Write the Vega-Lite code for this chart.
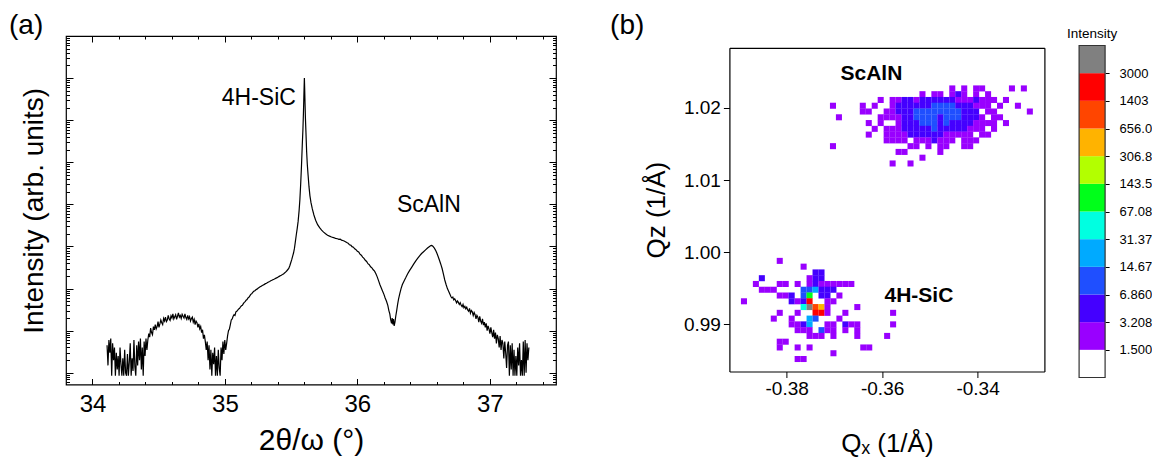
{
  "$schema": "https://vega.github.io/schema/vega-lite/v6.json",
  "background": "white",
  "padding": {"left": 8, "top": 10, "right": 0, "bottom": 0},
  "config": {
    "font": "Liberation Sans",
    "view": {"stroke": "#000", "strokeWidth": 1.2},
    "axis": {"labelFont": "Liberation Sans", "titleFont": "Liberation Sans", "labelColor": "#000", "titleColor": "#000", "tickColor": "#000", "domainColor": "#000", "domainWidth": 1.2, "titleFontWeight": "normal", "grid": false, "labelOverlap": false, "labelFlush": false},
    "title": {"font": "Liberation Sans", "fontWeight": "normal", "color": "#000"},
    "text": {"font": "Liberation Sans"}
  },
  "bounds": "flush",
  "spacing": 34.7,
  "hconcat": [
    {
      "width": 490,
      "height": 348.5,
      "title": {"text": "(a)", "anchor": "start", "frame": "group", "dx": -57, "offset": -26, "baseline": "alphabetic", "fontSize": 28},
      "layer": [
        {
          "data": {"values": [
{"t":34.110,"i":4.5},{"t":34.117,"i":1.5},{"t":34.124,"i":6},{"t":34.131,"i":3},{"t":34.138,"i":6.5},{"t":34.145,"i":0.85},{"t":34.152,"i":5},{"t":34.159,"i":2},{"t":34.166,"i":4},{"t":34.173,"i":0.85},{"t":34.180,"i":3},{"t":34.187,"i":1.2},{"t":34.194,"i":2.5},{"t":34.201,"i":0.85},{"t":34.208,"i":4},{"t":34.215,"i":1.6},{"t":34.222,"i":0.85},{"t":34.229,"i":2.2},{"t":34.236,"i":0.85},{"t":34.243,"i":3.5},{"t":34.250,"i":1},{"t":34.257,"i":0.85},{"t":34.264,"i":2.8},{"t":34.271,"i":0.85},{"t":34.278,"i":1.8},{"t":34.285,"i":5},{"t":34.292,"i":0.85},{"t":34.299,"i":2.2},{"t":34.306,"i":1.1},{"t":34.313,"i":6},{"t":34.320,"i":1.4},{"t":34.327,"i":0.85},{"t":34.334,"i":4.5},{"t":34.341,"i":1.5},{"t":34.348,"i":5.5},{"t":34.355,"i":2},{"t":34.362,"i":6.5},{"t":34.369,"i":1.2},{"t":34.376,"i":4},{"t":34.383,"i":0.85},{"t":34.390,"i":5.5},{"t":34.397,"i":2.5},{"t":34.404,"i":6.5},{"t":34.411,"i":3.5},
{"t":34.418,"i":6},{"t":34.425,"i":8.5},{"t":34.432,"i":7},{"t":34.439,"i":11.5},{"t":34.446,"i":9},{"t":34.453,"i":8},{"t":34.460,"i":12.5},{"t":34.467,"i":10.5},{"t":34.474,"i":14},{"t":34.481,"i":11},{"t":34.488,"i":12.5},{"t":34.495,"i":16.5},{"t":34.502,"i":12},{"t":34.509,"i":14.5},{"t":34.516,"i":18},{"t":34.523,"i":15.5},{"t":34.530,"i":14},{"t":34.537,"i":19.5},{"t":34.544,"i":17},{"t":34.551,"i":21},{"t":34.558,"i":16.5},{"t":34.565,"i":18},{"t":34.572,"i":23},{"t":34.579,"i":19},{"t":34.586,"i":17.5},{"t":34.593,"i":22.5},{"t":34.600,"i":20},{"t":34.607,"i":25},{"t":34.614,"i":19},{"t":34.621,"i":21.5},{"t":34.628,"i":24},{"t":34.635,"i":18.5},{"t":34.642,"i":22},{"t":34.649,"i":26.5},{"t":34.656,"i":21},{"t":34.663,"i":23},{"t":34.670,"i":19.5},{"t":34.677,"i":24.5},{"t":34.684,"i":22},{"t":34.691,"i":20},{"t":34.698,"i":25},{"t":34.705,"i":20.5},{"t":34.712,"i":18.5},{"t":34.719,"i":23},{"t":34.726,"i":19},{"t":34.733,"i":21.5},{"t":34.740,"i":17},{"t":34.747,"i":19.5},{"t":34.754,"i":21},{"t":34.761,"i":16},{"t":34.768,"i":18.5},{"t":34.775,"i":14},{"t":34.782,"i":17},{"t":34.789,"i":15.5},{"t":34.796,"i":12},{"t":34.803,"i":14.5},{"t":34.810,"i":11},{"t":34.817,"i":12.5},{"t":34.824,"i":9},{"t":34.831,"i":10.5},{"t":34.838,"i":6.5},{"t":34.845,"i":8},{"t":34.852,"i":5.5},
{"t":34.859,"i":3.5},{"t":34.866,"i":5.5},{"t":34.873,"i":2},{"t":34.880,"i":4.5},{"t":34.887,"i":1.2},{"t":34.894,"i":3.5},{"t":34.901,"i":0.85},{"t":34.908,"i":3},{"t":34.915,"i":1.6},{"t":34.922,"i":4},{"t":34.929,"i":0.85},{"t":34.936,"i":2.5},{"t":34.943,"i":0.85},{"t":34.950,"i":3.5},{"t":34.957,"i":1.3},{"t":34.964,"i":0.85},{"t":34.971,"i":4},{"t":34.978,"i":2},{"t":34.985,"i":5.5},{"t":34.992,"i":2.8},{"t":34.999,"i":6},{"t":35.006,"i":3.5},{"t":35.013,"i":5},
{"t":35.020,"i":7.5},{"t":35.027,"i":10},{"t":35.034,"i":11},{"t":35.041,"i":14},{"t":35.048,"i":18},{"t":35.055,"i":19},{"t":35.062,"i":22},{"t":35.069,"i":24},{"t":35.076,"i":23},{"t":35.083,"i":28},{"t":35.090,"i":29},{"t":35.097,"i":31},{"t":35.104,"i":33},{"t":35.111,"i":34},{"t":35.118,"i":37},{"t":35.125,"i":39},{"t":35.132,"i":40},{"t":35.139,"i":44},{"t":35.146,"i":47},{"t":35.153,"i":49},{"t":35.160,"i":53},{"t":35.167,"i":55},{"t":35.174,"i":60},{"t":35.181,"i":62},{"t":35.188,"i":67},{"t":35.195,"i":73},{"t":35.202,"i":75},{"t":35.210,"i":81},{"t":35.218,"i":86},{"t":35.226,"i":89},{"t":35.234,"i":94},{"t":35.242,"i":97},{"t":35.250,"i":102},{"t":35.258,"i":106},{"t":35.266,"i":110},{"t":35.274,"i":114},{"t":35.282,"i":118},{"t":35.290,"i":122},{"t":35.298,"i":126},{"t":35.306,"i":131},{"t":35.314,"i":134},{"t":35.322,"i":140},{"t":35.330,"i":144},{"t":35.338,"i":148},{"t":35.346,"i":153},{"t":35.354,"i":157},{"t":35.362,"i":163},{"t":35.370,"i":167},{"t":35.378,"i":172},{"t":35.386,"i":177},{"t":35.394,"i":182},{"t":35.402,"i":188},{"t":35.410,"i":195},{"t":35.418,"i":202},{"t":35.426,"i":208},{"t":35.434,"i":215},{"t":35.442,"i":223},{"t":35.450,"i":234},{"t":35.458,"i":246},{"t":35.466,"i":262},{"t":35.474,"i":280},{"t":35.482,"i":300},{"t":35.490,"i":350},{"t":35.497,"i":410},{"t":35.504,"i":480},{"t":35.511,"i":580},{"t":35.518,"i":700},{"t":35.525,"i":900},{"t":35.532,"i":1300},{"t":35.539,"i":1900},{"t":35.546,"i":2700},{"t":35.553,"i":4000},{"t":35.560,"i":7000},{"t":35.566,"i":13000},{"t":35.572,"i":30000},{"t":35.578,"i":80000},{"t":35.584,"i":250000},{"t":35.589,"i":600000},{"t":35.593,"i":1500000},{"t":35.596,"i":3500000},{"t":35.599,"i":8000000},{"t":35.600,"i":10000000},{"t":35.602,"i":6000000},{"t":35.605,"i":2500000},{"t":35.608,"i":1100000},{"t":35.612,"i":500000},{"t":35.617,"i":180000},{"t":35.622,"i":90000},{"t":35.628,"i":50000},{"t":35.635,"i":26000},{"t":35.642,"i":16000},{"t":35.650,"i":11000},{"t":35.660,"i":7800},{"t":35.672,"i":5600},{"t":35.685,"i":4200},
{"t":35.700,"i":3300},{"t":35.715,"i":2800},{"t":35.730,"i":2450},{"t":35.745,"i":2200},{"t":35.760,"i":2000},{"t":35.775,"i":1850},{"t":35.790,"i":1760},{"t":35.805,"i":1680},{"t":35.820,"i":1630},{"t":35.835,"i":1560},{"t":35.850,"i":1530},{"t":35.860,"i":1480},{"t":35.870,"i":1500},{"t":35.880,"i":1420},{"t":35.890,"i":1390},{"t":35.900,"i":1350},{"t":35.910,"i":1300},{"t":35.920,"i":1240},{"t":35.930,"i":1200},{"t":35.940,"i":1100},{"t":35.950,"i":1080},{"t":35.960,"i":990},{"t":35.970,"i":960},{"t":35.980,"i":880},{"t":35.990,"i":840},{"t":36.000,"i":770},{"t":36.010,"i":740},{"t":36.020,"i":660},{"t":36.030,"i":620},{"t":36.040,"i":560},{"t":36.050,"i":520},{"t":36.060,"i":470},{"t":36.070,"i":440},{"t":36.080,"i":390},{"t":36.090,"i":370},{"t":36.100,"i":330},{"t":36.110,"i":310},{"t":36.120,"i":280},{"t":36.130,"i":260},{"t":36.140,"i":225},{"t":36.150,"i":190},{"t":36.160,"i":155},{"t":36.170,"i":125},{"t":36.180,"i":105},{"t":36.190,"i":88},{"t":36.200,"i":74},{"t":36.210,"i":60},{"t":36.220,"i":50},{"t":36.230,"i":40},{"t":36.238,"i":30},{"t":36.245,"i":25},{"t":36.252,"i":18},{"t":36.258,"i":15},{"t":36.263,"i":20},{"t":36.268,"i":14},{"t":36.273,"i":19},{"t":36.278,"i":13},{"t":36.284,"i":16},{"t":36.290,"i":22},{"t":36.297,"i":30},{"t":36.304,"i":42},{"t":36.311,"i":56},{"t":36.320,"i":75},{"t":36.330,"i":100},{"t":36.340,"i":125},{"t":36.352,"i":150},{"t":36.365,"i":180},{"t":36.380,"i":225},{"t":36.395,"i":270},{"t":36.410,"i":320},{"t":36.425,"i":380},{"t":36.440,"i":450},{"t":36.455,"i":520},{"t":36.470,"i":600},{"t":36.485,"i":680},{"t":36.500,"i":750},{"t":36.515,"i":830},{"t":36.530,"i":920},{"t":36.545,"i":1000},{"t":36.555,"i":1050},{"t":36.562,"i":1060},{"t":36.570,"i":1020},{"t":36.580,"i":930},{"t":36.590,"i":820},{"t":36.600,"i":700},{"t":36.610,"i":580},{"t":36.620,"i":470},{"t":36.630,"i":380},{"t":36.640,"i":300},{"t":36.650,"i":220},{"t":36.660,"i":160},{"t":36.670,"i":125},{"t":36.680,"i":100},{"t":36.690,"i":85},{"t":36.700,"i":72},
{"t":36.707,"i":64},{"t":36.714,"i":60},{"t":36.721,"i":63},{"t":36.728,"i":54},{"t":36.735,"i":57},{"t":36.742,"i":52},{"t":36.749,"i":46},{"t":36.756,"i":51},{"t":36.763,"i":47},{"t":36.770,"i":42},{"t":36.777,"i":46},{"t":36.784,"i":40},{"t":36.791,"i":37},{"t":36.798,"i":42},{"t":36.805,"i":35},{"t":36.812,"i":38},{"t":36.819,"i":33},{"t":36.826,"i":36},{"t":36.833,"i":31},{"t":36.840,"i":29},{"t":36.847,"i":34},{"t":36.854,"i":26},{"t":36.861,"i":30},{"t":36.868,"i":28},{"t":36.875,"i":23},{"t":36.882,"i":27},{"t":36.889,"i":24},{"t":36.896,"i":19},{"t":36.903,"i":23},{"t":36.910,"i":21},{"t":36.917,"i":16},{"t":36.924,"i":22},{"t":36.931,"i":17},{"t":36.938,"i":15},{"t":36.945,"i":19},{"t":36.952,"i":13.5},{"t":36.959,"i":16},{"t":36.966,"i":12},{"t":36.973,"i":15},{"t":36.980,"i":10},{"t":36.987,"i":13},{"t":36.994,"i":11},{"t":37.001,"i":8.5},{"t":37.008,"i":12},{"t":37.015,"i":9},{"t":37.022,"i":7},{"t":37.029,"i":10.5},{"t":37.036,"i":6.5},{"t":37.043,"i":9},{"t":37.050,"i":5},{"t":37.057,"i":8},{"t":37.064,"i":6.5},{"t":37.071,"i":4},{"t":37.078,"i":7.5},{"t":37.085,"i":3.5},{"t":37.092,"i":6},{"t":37.099,"i":5},{"t":37.106,"i":2.2},{"t":37.113,"i":5.5},{"t":37.120,"i":3},{"t":37.127,"i":1.3},{"t":37.134,"i":4.5},{"t":37.141,"i":5.5},{"t":37.148,"i":0.85},{"t":37.155,"i":4.5},{"t":37.162,"i":1.2},{"t":37.169,"i":5},{"t":37.176,"i":0.85},{"t":37.183,"i":3.5},{"t":37.190,"i":0.85},{"t":37.197,"i":2.5},{"t":37.204,"i":0.85},{"t":37.211,"i":4},{"t":37.218,"i":1.5},{"t":37.225,"i":5},{"t":37.232,"i":0.85},{"t":37.239,"i":2},{"t":37.246,"i":0.85},{"t":37.253,"i":5.5},{"t":37.260,"i":0.85},{"t":37.267,"i":6},{"t":37.274,"i":1},{"t":37.281,"i":5},{"t":37.288,"i":2},{"t":37.295,"i":4}
          ]},
          "mark": {"type": "line", "color": "#000", "strokeWidth": 1.2},
          "encoding": {
            "x": {"field": "t", "type": "quantitative", "scale": {"domain": [33.8, 37.5], "nice": false, "zero": false},
              "axis": {"orient": "bottom", "domain": false, "values": [34, 34.2, 34.4, 34.6, 34.8, 35, 35.2, 35.4, 35.6, 35.8, 36, 36.2, 36.4, 36.6, 36.8, 37, 37.2, 37.4],
                "tickSize": {"condition": {"test": "abs(datum.value - round(datum.value)) < 0.01", "value": -6}, "value": -3},
                "labelExpr": "abs(datum.value - round(datum.value)) < 0.01 ? format(datum.value, 'd') : ''",
                "labelFontSize": 24, "labelPadding": 14, "title": "2θ/ω (°)", "titleFontSize": 30, "titlePadding": 6}},
            "y": {"field": "i", "type": "quantitative", "scale": {"type": "log", "domain": [0.527, 100000000], "nice": false},
              "axis": {"orient": "left", "domain": false, "labels": false,
                "values": [0.6,0.7,0.8,0.9,1,2,3,4,5,6,7,8,9,10,20,30,40,50,60,70,80,90,100,200,300,400,500,600,700,800,900,1000,2000,3000,4000,5000,6000,7000,8000,9000,10000,20000,30000,40000,50000,60000,70000,80000,90000,100000,200000,300000,400000,500000,600000,700000,800000,900000,1000000,2000000,3000000,4000000,5000000,6000000,7000000,8000000,9000000,10000000,20000000,30000000,40000000,50000000,60000000,70000000,80000000,90000000,100000000],
                "tickSize": {"condition": {"test": "abs(log(datum.value)/LN10 - round(log(datum.value)/LN10)) < 0.001", "value": -7}, "value": -3.5},
                "title": "Intensity (arb. units)", "titleFontSize": 28, "titlePadding": 17}}
          }
        },
        {
          "data": {"values": [{"t": 35.256, "i": 3400000, "label": "4H-SiC"}, {"t": 36.54, "i": 9500, "label": "ScAlN"}]},
          "mark": {"type": "text", "fontSize": 23, "color": "#000", "baseline": "middle", "align": "center"},
          "encoding": {
            "x": {"field": "t", "type": "quantitative", "scale": {"domain": [33.8, 37.5], "nice": false, "zero": false},
              "axis": {"orient": "top", "domain": false, "labels": false, "title": null, "values": [34, 34.2, 34.4, 34.6, 34.8, 35, 35.2, 35.4, 35.6, 35.8, 36, 36.2, 36.4, 36.6, 36.8, 37, 37.2, 37.4],
                "tickSize": {"condition": {"test": "abs(datum.value - round(datum.value)) < 0.01", "value": -6}, "value": -3}}},
            "y": {"field": "i", "type": "quantitative", "scale": {"type": "log", "domain": [0.527, 100000000], "nice": false},
              "axis": {"orient": "right", "domain": false, "labels": false, "title": null,
                "values": [0.6,0.7,0.8,0.9,1,2,3,4,5,6,7,8,9,10,20,30,40,50,60,70,80,90,100,200,300,400,500,600,700,800,900,1000,2000,3000,4000,5000,6000,7000,8000,9000,10000,20000,30000,40000,50000,60000,70000,80000,90000,100000,200000,300000,400000,500000,600000,700000,800000,900000,1000000,2000000,3000000,4000000,5000000,6000000,7000000,8000000,9000000,10000000,20000000,30000000,40000000,50000000,60000000,70000000,80000000,90000000,100000000],
                "tickSize": {"condition": {"test": "abs(log(datum.value)/LN10 - round(log(datum.value)/LN10)) < 0.001", "value": -7}, "value": -3.5}}},
            "text": {"field": "label"}
          }
        }
      ],
      "resolve": {"axis": {"x": "independent", "y": "independent"}}
    },
    {"width": 103.9, "height": 10, "data": {"values": []}, "mark": "point", "view": {"stroke": null}},
    {
      "width": 315,
      "height": 335.5,
      "view": {"stroke": null},
      "title": {"text": "(b)", "anchor": "start", "frame": "group", "dx": -119.3, "offset": -26, "baseline": "alphabetic", "fontSize": 28},
      "layer": [
        {
          "data": {"values": [
{"x":-0.3453,"z":1.0227,"v":2.2},{"x":-0.3428,"z":1.0227,"v":2.2},{"x":-0.3403,"z":1.0227,"v":2.2},{"x":-0.33905,"z":1.0227,"v":2.2},{"x":-0.3328,"z":1.0227,"v":2.2},{"x":-0.3303,"z":1.0227,"v":2.2},
{"x":-0.35155,"z":1.0219,"v":2.2},{"x":-0.34905,"z":1.0219,"v":2.2},{"x":-0.3478,"z":1.0219,"v":2.2},{"x":-0.3453,"z":1.0219,"v":2.2},{"x":-0.34405,"z":1.0219,"v":4.7},{"x":-0.3428,"z":1.0219,"v":2.2},{"x":-0.3403,"z":1.0219,"v":2.2},{"x":-0.3378,"z":1.0219,"v":2.2},
{"x":-0.3603,"z":1.0211,"v":2.2},{"x":-0.3578,"z":1.0211,"v":2.2},{"x":-0.35655,"z":1.0211,"v":2.2},{"x":-0.3553,"z":1.0211,"v":4.7},{"x":-0.35405,"z":1.0211,"v":4.7},{"x":-0.3528,"z":1.0211,"v":2.2},{"x":-0.35155,"z":1.0211,"v":4.7},{"x":-0.3503,"z":1.0211,"v":4.7},{"x":-0.34905,"z":1.0211,"v":4.7},{"x":-0.3478,"z":1.0211,"v":4.7},{"x":-0.34655,"z":1.0211,"v":4.7},{"x":-0.3453,"z":1.0211,"v":4.7},{"x":-0.34405,"z":1.0211,"v":2.2},{"x":-0.3428,"z":1.0211,"v":2.2},{"x":-0.34155,"z":1.0211,"v":2.2},{"x":-0.3403,"z":1.0211,"v":4.7},{"x":-0.33905,"z":1.0211,"v":2.2},{"x":-0.3378,"z":1.0211,"v":2.2},{"x":-0.33655,"z":1.0211,"v":2.2},{"x":-0.33405,"z":1.0211,"v":2.2},
{"x":-0.3703,"z":1.0203,"v":2.2},{"x":-0.36405,"z":1.0203,"v":2.2},{"x":-0.36155,"z":1.0203,"v":2.2},{"x":-0.3578,"z":1.0203,"v":2.2},{"x":-0.35655,"z":1.0203,"v":4.7},{"x":-0.3553,"z":1.0203,"v":4.7},{"x":-0.35405,"z":1.0203,"v":4.7},{"x":-0.3528,"z":1.0203,"v":4.7},{"x":-0.35155,"z":1.0203,"v":4.7},{"x":-0.3503,"z":1.0203,"v":4.7},{"x":-0.34905,"z":1.0203,"v":10},{"x":-0.3478,"z":1.0203,"v":10},{"x":-0.34655,"z":1.0203,"v":10},{"x":-0.3453,"z":1.0203,"v":10},{"x":-0.34405,"z":1.0203,"v":4.7},{"x":-0.3428,"z":1.0203,"v":4.7},{"x":-0.34155,"z":1.0203,"v":4.7},{"x":-0.3403,"z":1.0203,"v":2.2},{"x":-0.33905,"z":1.0203,"v":2.2},{"x":-0.3378,"z":1.0203,"v":2.2},{"x":-0.3353,"z":1.0203,"v":2.2},{"x":-0.33155,"z":1.0203,"v":2.2},
{"x":-0.36405,"z":1.0195,"v":2.2},{"x":-0.3628,"z":1.0195,"v":2.2},{"x":-0.35905,"z":1.0195,"v":2.2},{"x":-0.3578,"z":1.0195,"v":2.2},{"x":-0.35655,"z":1.0195,"v":4.7},{"x":-0.3553,"z":1.0195,"v":4.7},{"x":-0.35405,"z":1.0195,"v":4.7},{"x":-0.3528,"z":1.0195,"v":10},{"x":-0.35155,"z":1.0195,"v":10},{"x":-0.3503,"z":1.0195,"v":10},{"x":-0.34905,"z":1.0195,"v":10},{"x":-0.3478,"z":1.0195,"v":10},{"x":-0.34655,"z":1.0195,"v":10},{"x":-0.3453,"z":1.0195,"v":10},{"x":-0.34405,"z":1.0195,"v":10},{"x":-0.3428,"z":1.0195,"v":4.7},{"x":-0.34155,"z":1.0195,"v":4.7},{"x":-0.3403,"z":1.0195,"v":4.7},{"x":-0.3378,"z":1.0195,"v":2.2},{"x":-0.33655,"z":1.0195,"v":2.2},{"x":-0.32905,"z":1.0195,"v":2.2},
{"x":-0.36905,"z":1.0187,"v":2.2},{"x":-0.3603,"z":1.0187,"v":2.2},{"x":-0.35905,"z":1.0187,"v":2.2},{"x":-0.3578,"z":1.0187,"v":2.2},{"x":-0.35655,"z":1.0187,"v":2.2},{"x":-0.3553,"z":1.0187,"v":4.7},{"x":-0.35405,"z":1.0187,"v":4.7},{"x":-0.3528,"z":1.0187,"v":10},{"x":-0.35155,"z":1.0187,"v":10},{"x":-0.3503,"z":1.0187,"v":10},{"x":-0.34905,"z":1.0187,"v":10},{"x":-0.3478,"z":1.0187,"v":4.7},{"x":-0.34655,"z":1.0187,"v":10},{"x":-0.3453,"z":1.0187,"v":10},{"x":-0.34405,"z":1.0187,"v":10},{"x":-0.3428,"z":1.0187,"v":4.7},{"x":-0.34155,"z":1.0187,"v":4.7},{"x":-0.3403,"z":1.0187,"v":4.7},{"x":-0.33905,"z":1.0187,"v":2.2},{"x":-0.33655,"z":1.0187,"v":2.2},{"x":-0.3353,"z":1.0187,"v":2.2},
{"x":-0.3628,"z":1.0179,"v":2.2},{"x":-0.3603,"z":1.0179,"v":2.2},{"x":-0.35655,"z":1.0179,"v":2.2},{"x":-0.3553,"z":1.0179,"v":4.7},{"x":-0.35405,"z":1.0179,"v":4.7},{"x":-0.3528,"z":1.0179,"v":4.7},{"x":-0.35155,"z":1.0179,"v":10},{"x":-0.3503,"z":1.0179,"v":10},{"x":-0.34905,"z":1.0179,"v":10},{"x":-0.3478,"z":1.0179,"v":4.7},{"x":-0.34655,"z":1.0179,"v":10},{"x":-0.3453,"z":1.0179,"v":4.7},{"x":-0.34405,"z":1.0179,"v":4.7},{"x":-0.3428,"z":1.0179,"v":4.7},{"x":-0.34155,"z":1.0179,"v":4.7},{"x":-0.3403,"z":1.0179,"v":2.2},{"x":-0.33905,"z":1.0179,"v":2.2},{"x":-0.3378,"z":1.0179,"v":2.2},{"x":-0.33655,"z":1.0179,"v":2.2},{"x":-0.33405,"z":1.0179,"v":2.2},
{"x":-0.36155,"z":1.0171,"v":2.2},{"x":-0.35905,"z":1.0171,"v":2.2},{"x":-0.3578,"z":1.0171,"v":2.2},{"x":-0.35655,"z":1.0171,"v":2.2},{"x":-0.3553,"z":1.0171,"v":4.7},{"x":-0.35405,"z":1.0171,"v":4.7},{"x":-0.3528,"z":1.0171,"v":4.7},{"x":-0.35155,"z":1.0171,"v":4.7},{"x":-0.3503,"z":1.0171,"v":4.7},{"x":-0.34905,"z":1.0171,"v":10},{"x":-0.3478,"z":1.0171,"v":4.7},{"x":-0.34655,"z":1.0171,"v":4.7},{"x":-0.3453,"z":1.0171,"v":4.7},{"x":-0.34405,"z":1.0171,"v":4.7},{"x":-0.3428,"z":1.0171,"v":4.7},{"x":-0.34155,"z":1.0171,"v":2.2},{"x":-0.3403,"z":1.0171,"v":2.2},{"x":-0.33905,"z":1.0171,"v":2.2},{"x":-0.33655,"z":1.0171,"v":2.2},
{"x":-0.3628,"z":1.0163,"v":2.2},{"x":-0.35905,"z":1.0163,"v":2.2},{"x":-0.3578,"z":1.0163,"v":2.2},{"x":-0.35655,"z":1.0163,"v":2.2},{"x":-0.3553,"z":1.0163,"v":2.2},{"x":-0.35405,"z":1.0163,"v":4.7},{"x":-0.3528,"z":1.0163,"v":4.7},{"x":-0.35155,"z":1.0163,"v":4.7},{"x":-0.3503,"z":1.0163,"v":4.7},{"x":-0.34905,"z":1.0163,"v":4.7},{"x":-0.3478,"z":1.0163,"v":4.7},{"x":-0.34655,"z":1.0163,"v":2.2},{"x":-0.3453,"z":1.0163,"v":2.2},{"x":-0.34405,"z":1.0163,"v":2.2},{"x":-0.3428,"z":1.0163,"v":2.2},{"x":-0.34155,"z":1.0163,"v":2.2},{"x":-0.33905,"z":1.0163,"v":2.2},{"x":-0.3378,"z":1.0163,"v":2.2},
{"x":-0.35905,"z":1.0155,"v":2.2},{"x":-0.3578,"z":1.0155,"v":2.2},{"x":-0.35655,"z":1.0155,"v":2.2},{"x":-0.3553,"z":1.0155,"v":2.2},{"x":-0.3528,"z":1.0155,"v":2.2},{"x":-0.35155,"z":1.0155,"v":2.2},{"x":-0.3503,"z":1.0155,"v":2.2},{"x":-0.34905,"z":1.0155,"v":4.7},{"x":-0.3478,"z":1.0155,"v":2.2},{"x":-0.34655,"z":1.0155,"v":2.2},{"x":-0.3453,"z":1.0155,"v":2.2},{"x":-0.3428,"z":1.0155,"v":2.2},{"x":-0.34155,"z":1.0155,"v":2.2},{"x":-0.3403,"z":1.0155,"v":2.2},
{"x":-0.3703,"z":1.0147,"v":2.2},{"x":-0.35405,"z":1.0147,"v":2.2},{"x":-0.3528,"z":1.0147,"v":2.2},{"x":-0.3503,"z":1.0147,"v":2.2},{"x":-0.3478,"z":1.0147,"v":2.2},{"x":-0.34655,"z":1.0147,"v":2.2},{"x":-0.3428,"z":1.0147,"v":2.2},{"x":-0.34155,"z":1.0147,"v":2.2},
{"x":-0.35655,"z":1.0139,"v":2.2},{"x":-0.3553,"z":1.0139,"v":2.2},{"x":-0.3478,"z":1.0139,"v":2.2},
{"x":-0.35155,"z":1.0131,"v":2.2},
{"x":-0.3578,"z":1.0123,"v":2.2},{"x":-0.35405,"z":1.0123,"v":2.2},
{"x":-0.38145,"z":0.9988,"v":2.2},
{"x":-0.37645,"z":0.998,"v":2.2},
{"x":-0.37395,"z":0.9972,"v":4.7},{"x":-0.3727,"z":0.9972,"v":4.7},
{"x":-0.3852,"z":0.9964,"v":4.7},{"x":-0.3752,"z":0.9964,"v":2.2},{"x":-0.37395,"z":0.9964,"v":4.7},{"x":-0.3727,"z":0.9964,"v":4.7},
{"x":-0.38645,"z":0.9956,"v":2.2},{"x":-0.38145,"z":0.9956,"v":2.2},{"x":-0.3802,"z":0.9956,"v":2.2},{"x":-0.3777,"z":0.9956,"v":2.2},{"x":-0.3752,"z":0.9956,"v":2.2},{"x":-0.37395,"z":0.9956,"v":4.7},{"x":-0.3727,"z":0.9956,"v":2.2},{"x":-0.37145,"z":0.9956,"v":2.2},{"x":-0.3702,"z":0.9956,"v":2.2},{"x":-0.36895,"z":0.9956,"v":2.2},{"x":-0.3677,"z":0.9956,"v":2.2},{"x":-0.36645,"z":0.9956,"v":2.2},
{"x":-0.3852,"z":0.9948,"v":2.2},{"x":-0.38395,"z":0.9948,"v":2.2},{"x":-0.3827,"z":0.9948,"v":2.2},{"x":-0.37645,"z":0.9948,"v":10},{"x":-0.3752,"z":0.9948,"v":10},{"x":-0.37395,"z":0.9948,"v":21},{"x":-0.3727,"z":0.9948,"v":4.7},{"x":-0.37145,"z":0.9948,"v":4.7},{"x":-0.3702,"z":0.9948,"v":4.7},
{"x":-0.38145,"z":0.994,"v":2.2},{"x":-0.3802,"z":0.994,"v":2.2},{"x":-0.37895,"z":0.994,"v":4.7},{"x":-0.37645,"z":0.994,"v":10},{"x":-0.3752,"z":0.994,"v":98},{"x":-0.3727,"z":0.994,"v":4.7},{"x":-0.37145,"z":0.994,"v":4.7},{"x":-0.36895,"z":0.994,"v":2.2},
{"x":-0.38895,"z":0.9932,"v":2.2},{"x":-0.37895,"z":0.9932,"v":4.7},{"x":-0.3777,"z":0.9932,"v":2.2},{"x":-0.37645,"z":0.9932,"v":4.7},{"x":-0.3752,"z":0.9932,"v":2050},{"x":-0.37145,"z":0.9932,"v":2.2},{"x":-0.3702,"z":0.9932,"v":2.2},
{"x":-0.37645,"z":0.9924,"v":46},{"x":-0.3752,"z":0.9924,"v":4400},{"x":-0.37395,"z":0.9924,"v":960},{"x":-0.3727,"z":0.9924,"v":450},{"x":-0.37145,"z":0.9924,"v":2.2},{"x":-0.3652,"z":0.9924,"v":2.2},
{"x":-0.38145,"z":0.9916,"v":2.2},{"x":-0.3777,"z":0.9916,"v":2.2},{"x":-0.37395,"z":0.9916,"v":2050},{"x":-0.3727,"z":0.9916,"v":2050},{"x":-0.37145,"z":0.9916,"v":2.2},{"x":-0.3677,"z":0.9916,"v":2.2},{"x":-0.3577,"z":0.9916,"v":2.2},
{"x":-0.3827,"z":0.9908,"v":2.2},{"x":-0.37895,"z":0.9908,"v":2.2},{"x":-0.3752,"z":0.9908,"v":21},{"x":-0.37395,"z":0.9908,"v":10},{"x":-0.36895,"z":0.9908,"v":2.2},
{"x":-0.37895,"z":0.99,"v":2.2},{"x":-0.3777,"z":0.99,"v":2.2},{"x":-0.37645,"z":0.99,"v":4.7},{"x":-0.3752,"z":0.99,"v":21},{"x":-0.37145,"z":0.99,"v":2.2},{"x":-0.3702,"z":0.99,"v":2.2},{"x":-0.3677,"z":0.99,"v":4.7},{"x":-0.36645,"z":0.99,"v":2.2},{"x":-0.3652,"z":0.99,"v":2.2},{"x":-0.3577,"z":0.99,"v":2.2},
{"x":-0.3777,"z":0.9892,"v":2.2},{"x":-0.37645,"z":0.9892,"v":2.2},{"x":-0.3752,"z":0.9892,"v":2.2},{"x":-0.3727,"z":0.9892,"v":10},{"x":-0.37145,"z":0.9892,"v":2.2},{"x":-0.3702,"z":0.9892,"v":2.2},{"x":-0.3677,"z":0.9892,"v":2.2},{"x":-0.3652,"z":0.9892,"v":2.2},
{"x":-0.3752,"z":0.9884,"v":2.2},{"x":-0.37395,"z":0.9884,"v":2.2},{"x":-0.3727,"z":0.9884,"v":2.2},{"x":-0.3702,"z":0.9884,"v":2.2},{"x":-0.3652,"z":0.9884,"v":2.2},{"x":-0.35895,"z":0.9884,"v":2.2},
{"x":-0.38145,"z":0.9876,"v":2.2},{"x":-0.3802,"z":0.9876,"v":2.2},
{"x":-0.38145,"z":0.9868,"v":2.2},{"x":-0.3777,"z":0.9868,"v":2.2},{"x":-0.3752,"z":0.9868,"v":2.2},{"x":-0.36395,"z":0.9868,"v":2.2},{"x":-0.3627,"z":0.9868,"v":2.2},
{"x":-0.3702,"z":0.986,"v":2.2},
{"x":-0.3777,"z":0.9852,"v":2.2},{"x":-0.37645,"z":0.9852,"v":2.2}
          ]},
          "mark": {"type": "square", "size": 36.5, "opacity": 1, "strokeWidth": 0},
          "encoding": {
            "x": {"field": "x", "type": "quantitative", "scale": {"domain": [-0.392, -0.326], "nice": false, "zero": false},
              "axis": {"orient": "bottom", "domain": true, "values": [-0.38, -0.36, -0.34], "labelExpr": "replace(format(datum.value, '.2f'), '\u2212', '-')", "tickSize": 6, "labelPadding": 2, "labelFontSize": 19, "title": "Qₓ (1/Å)", "titleFontSize": 26, "titlePadding": 32}},
            "y": {"field": "z", "type": "quantitative", "scale": {"domain": [0.98347, 1.02833], "range": [335.5, 11.8], "nice": false, "zero": false},
              "axis": {"orient": "left", "domain": true, "values": [0.99, 1.0, 1.01, 1.02], "labelExpr": "format(datum.value, '.2f')", "tickSize": 6, "labelPadding": 3, "labelFontSize": 19, "title": "Qz (1/Å)", "titleFontSize": 26, "titlePadding": 14}},
            "color": {"field": "v", "type": "quantitative", "legend": null,
              "scale": {"type": "threshold", "domain": [1.5, 3.208, 6.86, 14.67, 31.37, 67.08, 143.5, 306.8, 656.0, 1403, 3000],
                "range": ["#FFFFFF", "#9900FF", "#4400FF", "#1F4FFF", "#00AAFF", "#00FFE1", "#00FF1A", "#B3FF00", "#FFB300", "#FF4500", "#FF0000", "#808080"]}}
          }
        },
        {
          "data": {"values": [{"x": -0.36225, "z": 1.02476, "label": "ScAlN"}, {"x": -0.3523, "z": 0.99393, "label": "4H-SiC"}]},
          "mark": {"type": "text", "fontSize": 21, "fontWeight": "bold", "color": "#000", "align": "center", "baseline": "middle"},
          "encoding": {
            "x": {"field": "x", "type": "quantitative", "scale": {"domain": [-0.392, -0.326], "nice": false, "zero": false},
              "axis": {"orient": "top", "offset": -11.8, "domain": true, "ticks": false, "labels": false, "title": null}},
            "y": {"field": "z", "type": "quantitative", "scale": {"domain": [0.98347, 1.02833], "range": [335.5, 11.8], "nice": false, "zero": false},
              "axis": {"orient": "right", "domain": true, "ticks": false, "labels": false, "title": null}},
            "text": {"field": "label"}
          }
        }
      ],
      "resolve": {"axis": {"x": "independent", "y": "independent"}}
    },
    {
      "width": 26,
      "height": 341.5,
      "view": {"stroke": null},
      "title": {"text": "Intensity", "fontSize": 13.5, "anchor": "middle", "frame": "group", "offset": -15.5, "baseline": "alphabetic"},
      "layer": [
        {
          "data": {"values": [
            {"lo": 0, "hi": 1, "v": 1}, {"lo": 1, "hi": 2, "v": 2.2}, {"lo": 2, "hi": 3, "v": 4.7}, {"lo": 3, "hi": 4, "v": 10},
            {"lo": 4, "hi": 5, "v": 21}, {"lo": 5, "hi": 6, "v": 46}, {"lo": 6, "hi": 7, "v": 98}, {"lo": 7, "hi": 8, "v": 210},
            {"lo": 8, "hi": 9, "v": 450}, {"lo": 9, "hi": 10, "v": 960}, {"lo": 10, "hi": 11, "v": 2050}, {"lo": 11, "hi": 12, "v": 4400}
          ]},
          "mark": {"type": "rect"},
          "encoding": {
            "y": {"field": "lo", "type": "quantitative", "scale": {"domain": [0, 12], "range": [341.5, 9.5], "nice": false, "zero": false},
              "axis": {"orient": "right", "domain": false, "values": [1, 2, 3, 4, 5, 6, 7, 8, 9, 10, 11],
                "labelExpr": "['', '1.500', '3.208', '6.860', '14.67', '31.37', '67.08', '143.5', '306.8', '656.0', '1403', '3000'][datum.value]",
                "labelOverlap": false, "labelSeparation": 0,
                "tickSize": 4, "labelPadding": 10, "labelFontSize": 13, "title": null}},
            "y2": {"field": "hi"},
            "color": {"field": "v", "type": "quantitative", "legend": null,
              "scale": {"type": "threshold", "domain": [1.5, 3.208, 6.86, 14.67, 31.37, 67.08, 143.5, 306.8, 656.0, 1403, 3000],
                "range": ["#FFFFFF", "#9900FF", "#4400FF", "#1F4FFF", "#00AAFF", "#00FFE1", "#00FF1A", "#B3FF00", "#FFB300", "#FF4500", "#FF0000", "#808080"]}}
          }
        },
        {
          "data": {"values": [{}]},
          "mark": {"type": "rect", "filled": false, "stroke": "#333", "strokeWidth": 1.2},
          "encoding": {
            "y": {"datum": 0, "type": "quantitative", "axis": null},
            "y2": {"datum": 12}
          }
        }
      ],
      "resolve": {"axis": {"y": "independent"}}
    }
  ]
}
